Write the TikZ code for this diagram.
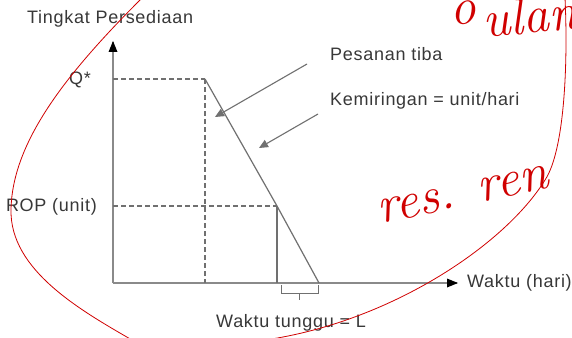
\documentclass[tikz,border=0pt]{standalone}
\usepackage{fontspec}
\setmainfont{Liberation Sans}[LetterSpace=4]
\newfontfamily\handfont{Latin Modern Roman}
\usetikzlibrary{arrows.meta}
\definecolor{txtgray}{HTML}{383838}
\definecolor{linegray}{HTML}{707070}
\definecolor{axisgray}{HTML}{8A8A8A}
\definecolor{penred}{HTML}{D00000}
\tikzset{
  lbl/.style={text=txtgray, font=\fontsize{18}{21}\selectfont, inner sep=0pt},
  axisline/.style={draw=axisgray, line width=1.6pt},
  dashline/.style={draw=linegray, line width=1.1pt, dash pattern=on 5pt off 3pt},
  solidline/.style={draw=linegray, line width=1.2pt},
  tip/.style={-{Triangle[length=9pt,width=8pt]}, draw=linegray, line width=1.1pt},
  hand/.style={text=penred, font=\handfont\itshape\fontsize{52}{56}\selectfont, inner sep=0pt},
  redline/.style={draw=penred, line width=0.8pt},
}
\begin{document}
\begin{tikzpicture}[x=1pt,y=-1pt]
\useasboundingbox[fill=white] (0,0) rectangle (572,337);
\clip (0,0) rectangle (572,337);
% coordinates
\coordinate (O) at (113,283);
\coordinate (ytop) at (113,42);
\coordinate (xend) at (457,283);
\coordinate (Qy) at (113,79);
\coordinate (Q) at (205,79);
\coordinate (Qb) at (205,283);
\coordinate (Ry) at (113,206);
\coordinate (R) at (277,206);
\coordinate (Rb) at (277,283);
\coordinate (Z) at (319,283);
\coordinate (b1) at (281,285);
\coordinate (b2) at (318,285);
\coordinate (bm) at (299,293);
\coordinate (bt) at (299,300);
% axes
\draw[axisline] (O) -- (ytop);
\draw[axisline] (O) -- (xend);
\fill[black] (113,41) -- (108.5,52) -- (117.5,52) -- cycle;
\fill[black] (458,283) -- (447,278.5) -- (447,287.5) -- cycle;
% dashed guides
\draw[dashline] (Qy) -- (Q);
\draw[dashline] (Q) -- (Qb);
\draw[dashline] (Ry) -- (R);
% inventory line
\draw[solidline] (Q) -- (R) -- (Z);
\draw[solidline] (R) -- (Rb);
% bracket
\draw[draw=linegray, line width=0.9pt] (b1) -- (281,293) -- (318,293) -- (b2);
\draw[draw=linegray, line width=0.9pt] (bm) -- (bt);
% labels
\node[lbl, anchor=west] (ylab) at (27,19) {Tingkat Persediaan};
\node[lbl, anchor=east] (qlab) at (91,80) {Q*};
\node[lbl, anchor=east] (roplab) at (97,207) {ROP (unit)};
\node[lbl, anchor=west] (xlab) at (467,283) {Waktu (hari)};
\node[lbl] (llab) at (291,323) {Waktu tunggu = L};
\node[lbl, anchor=west] (pes) at (330,54) {Pesanan tiba};
\node[lbl, anchor=west] (kem) at (330,101) {Kemiringan = unit/hari};
\coordinate (a1s) at (307,64);
\coordinate (a1e) at (215,117);
\coordinate (a2s) at (318,114);
\coordinate (a2e) at (259,148);
\draw[tip] (a1s) -- (a1e);
\draw[tip] (a2s) -- (a2e);
% red annotations
\draw[redline] (142,-2) .. controls (70,70) and (12,140) .. (11,210) .. controls (10,270) and (80,310) .. (132,340);
\draw[redline] (265,340) .. controls (390,322) and (505,245) .. (545,180) .. controls (565,150) and (568,60) .. (565,-2);
\node[hand, anchor=base west, rotate=6] (h1) at (451,26) {o};
\node[hand, anchor=base west, rotate=6] (h2) at (484,38) {ulan};
\node[hand, anchor=base west, rotate=12] (h3) at (380,224) {res. ren};
\end{tikzpicture}
\end{document}
